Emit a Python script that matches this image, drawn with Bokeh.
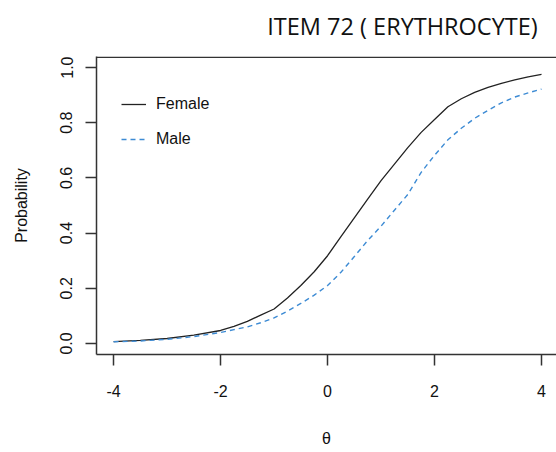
from bokeh.plotting import figure
from bokeh.layouts import column
from bokeh.models import Range1d, LinearAxis, FixedTicker, Legend, LegendItem, Span, Label
from bokeh.embed import file_html
from bokeh.resources import INLINE

theta = [-4, -3.5, -3, -2.5, -2, -1.75, -1.5, -1.25, -1, -0.75, -0.5, -0.25, 0,
         0.25, 0.5, 0.75, 1, 1.25, 1.5, 1.75, 2, 2.25, 2.5, 2.75, 3, 3.25, 3.5, 3.75, 4]
female = [0.007, 0.011, 0.018, 0.030, 0.047, 0.062, 0.080, 0.103, 0.125, 0.165, 0.210, 0.260, 0.318,
          0.387, 0.455, 0.523, 0.590, 0.650, 0.710, 0.765, 0.812, 0.858, 0.887, 0.910, 0.928, 0.943, 0.955, 0.966, 0.975]
male = [0.006, 0.009, 0.015, 0.025, 0.040, 0.050, 0.060, 0.075, 0.093, 0.117, 0.145, 0.175, 0.210,
        0.258, 0.315, 0.373, 0.425, 0.483, 0.540, 0.620, 0.682, 0.738, 0.780, 0.816, 0.845, 0.872, 0.893, 0.908, 0.922]
x_ticks = [-4, -2, 0, 2, 4]
x_tick_labels = {-4: "-4", -2: "-2", 0: "0", 2: "2", 4: "4"}
y_ticks = [0.0, 0.2, 0.4, 0.6, 0.8, 1.0]
y_tick_labels = {0.0: "0.0", 0.2: "0.2", 0.4: "0.4", 0.6: "0.6", 0.8: "0.8", 1.0: "1.0"}
title_text = "ITEM 72 ( ERYTHROCYTE)"
y_top = 1.04

TICK_FONT = "Liberation Sans"

# --- title strip ---
t = figure(width=556, height=56, output_backend="svg", toolbar_location=None,
           x_range=Range1d(0, 556), y_range=Range1d(0, 56),
           x_axis_type=None, y_axis_type=None, min_border=0)
t.outline_line_color = None
t.background_fill_color = "white"
t.border_fill_color = "white"
t.add_layout(Label(x=306, y=31, x_units="screen", y_units="screen",
                   text=title_text, text_font="Open Sans",
                   text_font_size="23.5px", text_color="#111111",
                   text_align="center", text_baseline="middle"))

# --- main plot ---
p = figure(width=556, height=396, output_backend="svg", toolbar_location=None,
           x_range=Range1d(-4.32, 4.28), y_range=Range1d(-0.04, y_top),
           x_axis_type=None, y_axis_type=None,
           min_border_left=96, min_border_right=0, min_border_top=0, min_border_bottom=98)
p.outline_line_color = None
p.grid.visible = False
p.background_fill_color = "white"
p.border_fill_color = "white"

def style_axis(ax):
    ax.axis_line_color = "#333333"
    ax.axis_line_width = 1.5
    ax.major_tick_line_color = "#333333"
    ax.major_tick_line_width = 1.5
    ax.major_tick_in = 0
    ax.major_tick_out = 11
    ax.minor_tick_line_color = None
    ax.major_label_text_font = TICK_FONT
    ax.major_label_text_font_size = "16px"
    ax.major_label_text_color = "#111111"
    ax.axis_label_text_font = TICK_FONT
    ax.axis_label_text_font_size = "16px"
    ax.axis_label_text_font_style = "normal"
    ax.axis_label_text_color = "#111111"

xaxis = LinearAxis(ticker=FixedTicker(ticks=x_ticks), axis_label="θ")
style_axis(xaxis)
xaxis.major_label_overrides = x_tick_labels
xaxis.major_label_standoff = 19
xaxis.axis_label_standoff = 30
p.add_layout(xaxis, "below")

yaxis = LinearAxis(ticker=FixedTicker(ticks=y_ticks), axis_label="Probability")
style_axis(yaxis)
yaxis.major_label_overrides = y_tick_labels
yaxis.major_label_orientation = "vertical"
yaxis.major_label_standoff = 13
yaxis.axis_label_standoff = 28
p.add_layout(yaxis, "left")

top_border = Span(location=y_top - 0.0025, dimension="width",
                  line_color="#333333", line_width=1.5)
p.add_layout(top_border)

r_f = p.line(theta, female, line_color="#222222", line_width=1.3)
r_m = p.line(theta, male, line_color="#3d8bd4", line_width=1.4, line_dash="5 4")

legend = Legend(items=[LegendItem(label="Female", renderers=[r_f]),
                       LegendItem(label="Male", renderers=[r_m])],
                location=(25, 205), margin=0, padding=10, spacing=15,
                glyph_width=25, glyph_height=20, label_standoff=10,
                label_text_font=TICK_FONT, label_text_font_size="16px",
                label_text_color="#111111",
                border_line_color=None, background_fill_alpha=0)
p.add_layout(legend, "center")

layout = column(t, p, spacing=0)
open("out.html", "w").write(file_html(layout, INLINE))
